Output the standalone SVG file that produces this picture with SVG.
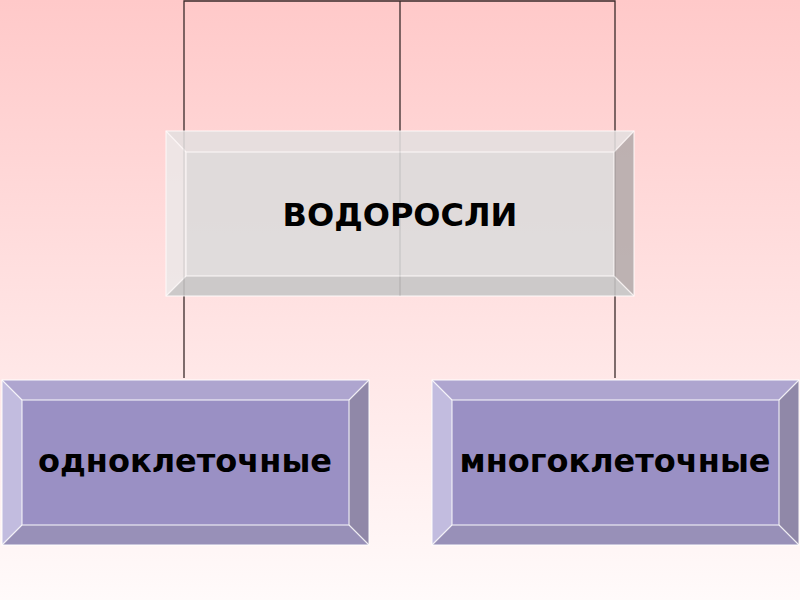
<svg xmlns="http://www.w3.org/2000/svg" width="800" height="600" viewBox="0 0 800 600">
<defs>
<linearGradient id="bg" x1="0" y1="0" x2="0" y2="1">
<stop offset="0" stop-color="#ffc9c9"/>
<stop offset="1" stop-color="#fffafa"/>
</linearGradient>
<style>
.ln{stroke:#3a2a2a;stroke-width:1.3;fill:none}
.hl{stroke:#ffffff;stroke-width:1.2;fill:none;stroke-opacity:0.8}
.t{font-family:"DejaVu Sans",Verdana,sans-serif;font-weight:bold;fill:#000;text-anchor:middle;font-size:32px}
</style>
</defs>
<rect width="800" height="600" fill="url(#bg)"/>
<g id="connectors">
<path class="ln" d="M184,378 V1 H615 V378"/>
<path class="ln" d="M400,1 V296"/>
</g>
<g id="node-vodorosli">
<g opacity="0.88">
<polygon points="166,131 634,131 614,152 186,152" fill="#e4e0e0"/>
<polygon points="166,131 186,152 186,276 166,296" fill="#ece8e8"/>
<polygon points="166,296 186,276 614,276 634,296" fill="#c6c6c6"/>
<polygon points="634,131 634,296 614,276 614,152" fill="#b4acac"/>
<rect x="186" y="152" width="428" height="124" fill="#dcdcdc"/>
<rect x="166" y="131" width="468" height="165" class="hl"/>
<rect x="186" y="152" width="428" height="124" class="hl"/>
<path class="hl" d="M166,131 L186,152 M634,131 L614,152 M166,296 L186,276 M634,296 L614,276"/>
</g>
<text class="t" x="400" y="226">ВОДОРОСЛИ</text>
</g>
<g id="node-odno">
<polygon points="2,380 369,380 349,400 22,400" fill="#aea5cf"/>
<polygon points="2,380 22,400 22,525 2,545" fill="#c2bcdf"/>
<polygon points="2,545 22,525 349,525 369,545" fill="#9890b8"/>
<polygon points="369,380 369,545 349,525 349,400" fill="#9088a8"/>
<rect x="22" y="400" width="327" height="125" fill="#9a90c4"/>
<rect x="2" y="380" width="367" height="165" class="hl"/>
<rect x="22" y="400" width="327" height="125" class="hl"/>
<path class="hl" d="M2,380 L22,400 M369,380 L349,400 M2,545 L22,525 M369,545 L349,525"/>
<text class="t" x="185" y="472">одноклеточные</text>
</g>
<g id="node-mnogo">
<polygon points="432,380 799,380 779,400 452,400" fill="#aea5cf"/>
<polygon points="432,380 452,400 452,525 432,545" fill="#c2bcdf"/>
<polygon points="432,545 452,525 779,525 799,545" fill="#9890b8"/>
<polygon points="799,380 799,545 779,525 779,400" fill="#9088a8"/>
<rect x="452" y="400" width="327" height="125" fill="#9a90c4"/>
<rect x="432" y="380" width="367" height="165" class="hl"/>
<rect x="452" y="400" width="327" height="125" class="hl"/>
<path class="hl" d="M432,380 L452,400 M799,380 L779,400 M432,545 L452,525 M799,545 L779,525"/>
<text class="t" x="615" y="472">многоклеточные</text>
</g>
</svg>
